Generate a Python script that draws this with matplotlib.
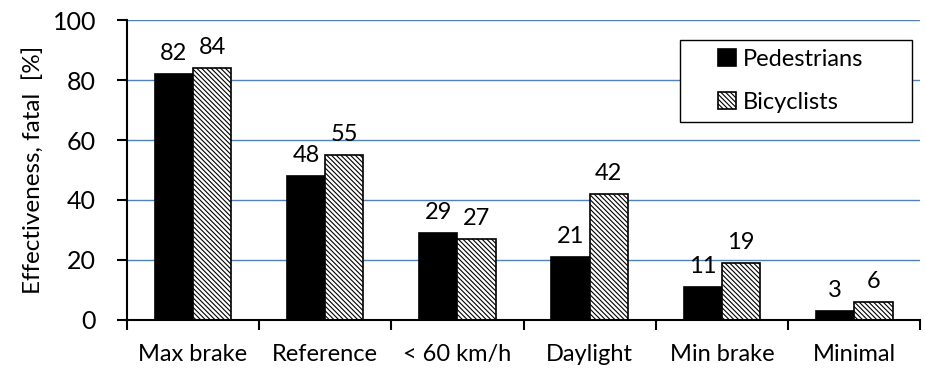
import numpy as np
import matplotlib.pyplot as plt
from matplotlib.patches import Rectangle

plt.rcParams['font.family'] = ['Lato', 'DejaVu Sans']
plt.rcParams['hatch.linewidth'] = 0.8

categories = ["Max brake", "Reference", "< 60 km/h", "Daylight", "Min brake", "Minimal"]
pedestrians = [82, 48, 29, 21, 11, 3]
bicyclists = [84, 55, 27, 42, 19, 6]

x = np.arange(len(categories))
w = 0.29
fs = 17

fig = plt.figure(figsize=(9.25, 3.72), dpi=100)
ax = fig.add_axes([0.137, 0.140, 0.858, 0.806])

# horizontal grid lines
for g in [20, 40, 60, 80, 100]:
    ax.axhline(g, color="#4F81BD", lw=1.0, zorder=0)

b1 = ax.bar(x - w / 2, pedestrians, w, color="black", edgecolor="black",
            lw=1.2, label="Pedestrians", zorder=2)
b2 = ax.bar(x + w / 2, bicyclists, w, color="white", edgecolor="black",
            lw=1.2, hatch="\\\\\\\\\\\\\\", label="Bicyclists", zorder=2)

for bars, vals in [(b1, pedestrians), (b2, bicyclists)]:
    for r, v in zip(bars, vals):
        ax.annotate(str(v), (r.get_x() + r.get_width() / 2, v),
                    xytext=(0, 7), textcoords="offset points",
                    ha="center", va="bottom", fontsize=fs)

ax.set_xlim(-0.5, len(categories) - 0.5)
ax.set_ylim(0, 100)
ax.set_yticks([0, 20, 40, 60, 80, 100])
ax.set_xticks(x)
ax.set_xticklabels(categories)
ax.set_xticks(np.arange(len(categories) + 1) - 0.5, minor=True)
ax.tick_params(axis="x", which="major", length=0, pad=17, labelsize=fs)
ax.tick_params(axis="x", which="minor", length=7, width=1.5, direction="out")
ax.tick_params(axis="y", length=7, width=1.5, direction="out", labelsize=fs + 1, pad=15)
ax.set_ylabel("Effectiveness, fatal  [%]", fontsize=fs + 0.5, labelpad=6)

for s in ["top", "right"]:
    ax.spines[s].set_visible(False)
for s in ["left", "bottom"]:
    ax.spines[s].set_linewidth(1.5)

# legend with a wider frame drawn separately
leg = ax.legend(loc="upper left", bbox_to_anchor=(0.745, 0.905), fontsize=fs,
                frameon=False, handlelength=0.75, handleheight=0.75,
                handletextpad=0.3, borderpad=0, labelspacing=0.95,
                borderaxespad=0)
ax.add_patch(Rectangle((0.697, 0.66), 0.293, 0.273, transform=ax.transAxes,
                       facecolor="white", edgecolor="black", lw=1.0, zorder=3))
leg.set_zorder(4)

fig.savefig("out.png", dpi=100)
